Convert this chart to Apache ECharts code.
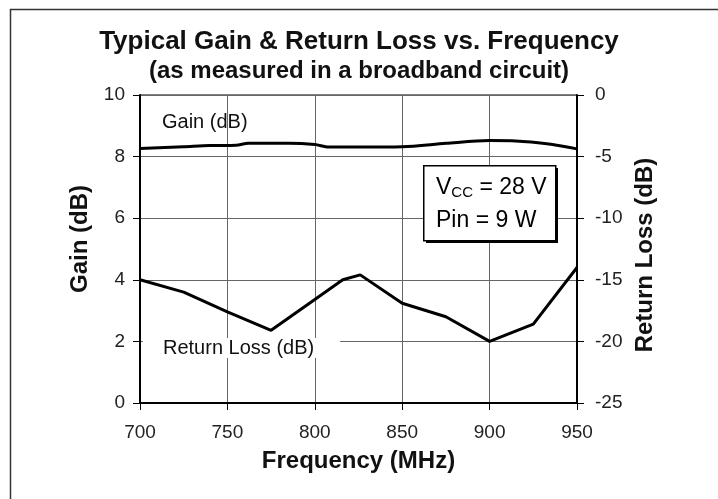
<!DOCTYPE html>
<html>
<head>
<meta charset="utf-8">
<script src="https://cdn.jsdelivr.net/npm/echarts@6/dist/echarts.min.js"></script>
<style>
  html, body { margin: 0; padding: 0; background: #fff; }
  #chart { width: 718px; height: 499px; }
</style>
</head>
<body>
<div id="chart"></div>
<script>
// frequency (MHz) / value pairs
const gainData = [
  [700, 8.26], [725, 8.32], [740, 8.36], [755, 8.37], [762, 8.43], [785, 8.43],
  [800, 8.39], [808, 8.31], [825, 8.31], [850, 8.32], [875, 8.43], [900, 8.52],
  [915, 8.51], [935, 8.4], [950, 8.25]
]
const returnLossData = [
  [700, -15.0], [725, -16.0], [750, -17.6], [775, -19.1], [800, -16.6], [816, -15.0],
  [826, -14.6], [850, -16.9], [875, -18.0], [900, -20.0], [925, -18.6], [950, -14.0]
]
const freqTicks = { min: 700, max: 950, interval: 50 }
const gainTicks = { min: 0, max: 10, interval: 2 }
const rlTicks = { min: -25, max: 0, interval: 5 }

const chart = echarts.init(document.getElementById('chart'))
const font = 'Liberation Sans, Arial, sans-serif'

const axisCommon = {
  axisLine: { show: true, lineStyle: { color: '#000', width: 2 } },
  axisTick: { show: true, length: 7, lineStyle: { color: '#000', width: 1 } },
  axisLabel: { color: '#222', fontSize: 19, fontFamily: font },
  nameTextStyle: { color: '#111', fontSize: 24, fontWeight: 'bold', fontFamily: font }
}

const option = {
  backgroundColor: '#fff',
  animation: false,
  title: {
    text: 'Typical Gain & Return Loss vs. Frequency',
    subtext: '(as measured in a broadband circuit)',
    left: 'center',
    top: 24,
    itemGap: 4,
    textStyle: { color: '#111', fontSize: 26, fontWeight: 'bold', fontFamily: font },
    subtextStyle: { color: '#111', fontSize: 24, fontWeight: 'bold', fontFamily: font }
  },
  grid: { left: 140, right: 141, top: 95, bottom: 96, show: true, borderColor: '#000', borderWidth: 1 },
  xAxis: {
    type: 'value',
    ...freqTicks,
    ...axisCommon,
    name: 'Frequency (MHz)',
    nameLocation: 'middle',
    nameGap: 46,
    axisLabel: { ...axisCommon.axisLabel, margin: 20 },
    splitLine: { show: true, lineStyle: { color: '#666', width: 1 } }
  },
  yAxis: [{
    type: 'value',
    ...gainTicks,
    ...axisCommon,
    name: 'Gain (dB)',
    nameLocation: 'middle',
    nameRotate: 90,
    nameGap: 48,
    nameTextStyle: { ...axisCommon.nameTextStyle, padding: [0, 0, 0, 20] },
    axisLabel: { ...axisCommon.axisLabel, margin: 15 },
    splitLine: { show: true, lineStyle: { color: '#666', width: 1 } }
  }, {
    type: 'value',
    position: 'right',
    ...rlTicks,
    ...axisCommon,
    name: 'Return Loss (dB)',
    nameLocation: 'middle',
    nameRotate: 90,
    nameGap: 56,
    nameTextStyle: { ...axisCommon.nameTextStyle, padding: [0, 12, 0, 0] },
    axisLabel: { ...axisCommon.axisLabel, margin: 18 },
    splitLine: { show: false }
  }],
  series: [{
    name: 'Gain',
    type: 'line',
    yAxisIndex: 0,
    data: gainData,
    smooth: 0.3,
    showSymbol: false,
    lineStyle: { color: '#000', width: 3 }
  }, {
    name: 'Return Loss',
    type: 'line',
    yAxisIndex: 1,
    data: returnLossData,
    showSymbol: false,
    lineStyle: { color: '#000', width: 3 }
  }],
  graphic: [
    // outer frame
    { type: 'rect', left: 8, top: 7, shape: { width: 720, height: 500 }, style: { fill: 'none', stroke: '#333', lineWidth: 1.5 }, silent: true },
    // series labels
    { type: 'text', left: 162, top: 112, style: { text: 'Gain (dB)', font: '20px ' + font, fill: '#111' }, z: 10 },
    { type: 'text', left: 143, top: 338, style: { text: 'Return Loss (dB)', font: '20px ' + font, fill: '#111', backgroundColor: '#fff', padding: [0, 26, 0, 20] }, z: 10 },
    // conditions box
    { type: 'rect', left: 426, top: 168, shape: { width: 132, height: 75 }, style: { fill: '#000' }, z: 10 },
    { type: 'rect', left: 423, top: 165, shape: { width: 132, height: 75 }, style: { fill: '#fff', stroke: '#000', lineWidth: 1.5 }, z: 11 },
    {
      type: 'text', left: 436, top: 176, z: 12,
      style: {
        text: '{n|V}{s|CC}{n| = 28 V}\n{n|Pin = 9 W}',
        rich: {
          n: { fontSize: 23, fontFamily: font, color: '#111', lineHeight: 33 },
          s: { fontSize: 15, fontFamily: font, color: '#111', lineHeight: 33, padding: [9, 0, 0, 0] }
        }
      }
    }
  ]
}

chart.setOption(option)
</script>
</body>
</html>
